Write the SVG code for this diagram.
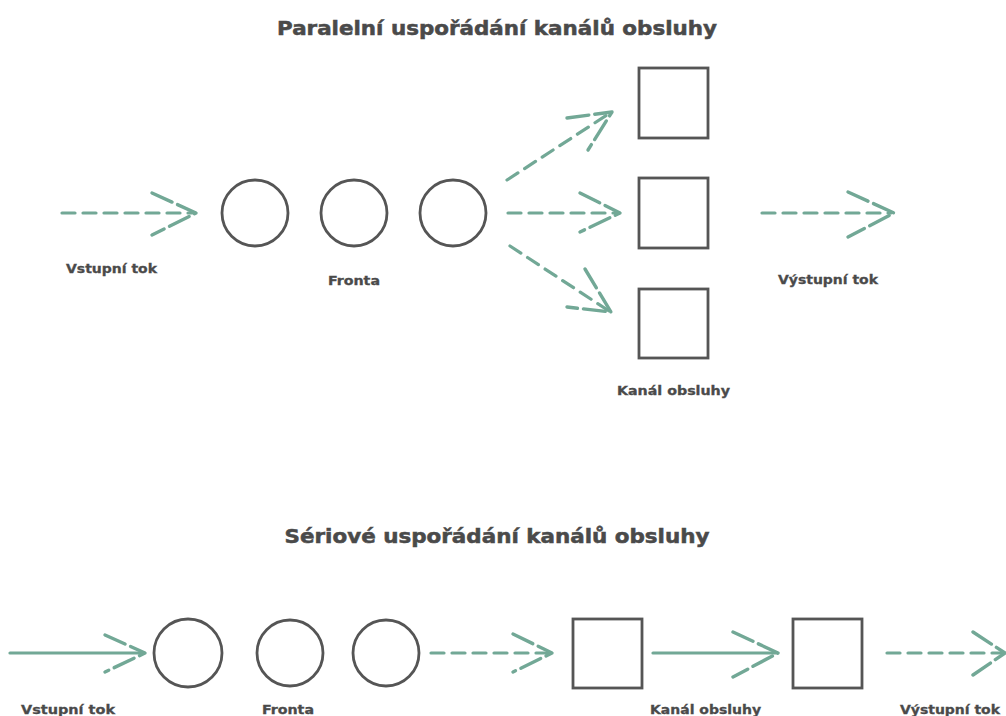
<svg xmlns="http://www.w3.org/2000/svg" width="1006" height="716" viewBox="0 0 1006 716">
<style>
.title{font-family:"DejaVu Sans","Liberation Sans",sans-serif;font-weight:bold;font-size:19px;fill:#4a4a4a;stroke:#4a4a4a;stroke-width:0.5}
.lbl{font-family:"DejaVu Sans Condensed","DejaVu Sans","Liberation Sans",sans-serif;font-weight:bold;font-size:13px;fill:#4a4a4a;stroke:#4a4a4a;stroke-width:0.3}
.shape{fill:#fff;stroke:#555;stroke-width:2.8}
.dash{fill:none;stroke:#72a896;stroke-width:3.2;stroke-linecap:round;stroke-dasharray:13 8}
.solid{fill:none;stroke:#72a896;stroke-width:3.2;stroke-linecap:round}
.head{fill:none;stroke:#72a896;stroke-width:3.4;stroke-linecap:round;stroke-linejoin:round;stroke-dasharray:22 6}
</style>
<rect width="1006" height="716" fill="#fff"/>
<text class="title" x="497" y="35" text-anchor="middle" textLength="440" lengthAdjust="spacingAndGlyphs">Paralelní uspořádání kanálů obsluhy</text>
<text class="title" x="497" y="543" text-anchor="middle" textLength="425" lengthAdjust="spacingAndGlyphs">Sériové uspořádání kanálů obsluhy</text>

<g id="connectors">
  <path class="dash" d="M62,213 L194,213"/>
  <path class="head" d="M152,193 L196,213 L152,235"/>
  <path class="dash" d="M507,180 L610,113"/>
  <path class="head" d="M567,118 L612,112 L588,150"/>
  <path class="dash" d="M508,213 L618,213"/>
  <path class="head" d="M580,193 L620,213 L580,232"/>
  <path class="dash" d="M510,246 L609,311"/>
  <path class="head" d="M585,269 L611,312 L567,307"/>
  <path class="dash" d="M762,213 L891,213"/>
  <path class="head" d="M848,192 L894,213 L848,237"/>
  <path class="solid" d="M10,653 L143,653"/>
  <path class="head" d="M105,635 L145,653 L105,672"/>
  <path class="dash" d="M431,653 L550,653"/>
  <path class="head" d="M513,634 L552,653 L513,672"/>
  <path class="solid" d="M653,653 L776,653"/>
  <path class="head" d="M733,632 L778,653 L733,677"/>
  <path class="dash" d="M887,653 L1003,653"/>
  <path class="head" d="M973,632 L1005,653 L973,675"/>
</g>

<g id="p-queue1"><circle class="shape" cx="255" cy="213" r="33"/></g>
<g id="p-queue2"><circle class="shape" cx="354" cy="213" r="33"/></g>
<g id="p-queue3"><circle class="shape" cx="453" cy="213" r="33"/></g>
<g id="p-chan1"><rect class="shape" x="639" y="68" width="69" height="70"/></g>
<g id="p-chan2"><rect class="shape" x="639" y="178" width="69" height="70"/></g>
<g id="p-chan3"><rect class="shape" x="639" y="289" width="69" height="69"/></g>

<g id="s-queue1"><circle class="shape" cx="188" cy="653" r="34"/></g>
<g id="s-queue2"><circle class="shape" cx="290" cy="653" r="33"/></g>
<g id="s-queue3"><circle class="shape" cx="386" cy="653" r="33"/></g>
<g id="s-chan1"><rect class="shape" x="573" y="619" width="69" height="69"/></g>
<g id="s-chan2"><rect class="shape" x="793" y="619" width="69" height="69"/></g>

<g id="labels">
  <text class="lbl" x="66" y="273" textLength="91" lengthAdjust="spacingAndGlyphs">Vstupní tok</text>
  <text class="lbl" x="328" y="285" textLength="52" lengthAdjust="spacingAndGlyphs">Fronta</text>
  <text class="lbl" x="778" y="284" textLength="100" lengthAdjust="spacingAndGlyphs">Výstupní tok</text>
  <text class="lbl" x="617" y="395" textLength="113" lengthAdjust="spacingAndGlyphs">Kanál obsluhy</text>
  <text class="lbl" x="21" y="714" textLength="94" lengthAdjust="spacingAndGlyphs">Vstupní tok</text>
  <text class="lbl" x="262" y="714" textLength="52" lengthAdjust="spacingAndGlyphs">Fronta</text>
  <text class="lbl" x="650" y="714" textLength="111" lengthAdjust="spacingAndGlyphs">Kanál obsluhy</text>
  <text class="lbl" x="900" y="714" textLength="100" lengthAdjust="spacingAndGlyphs">Výstupní tok</text>
</g>
</svg>
